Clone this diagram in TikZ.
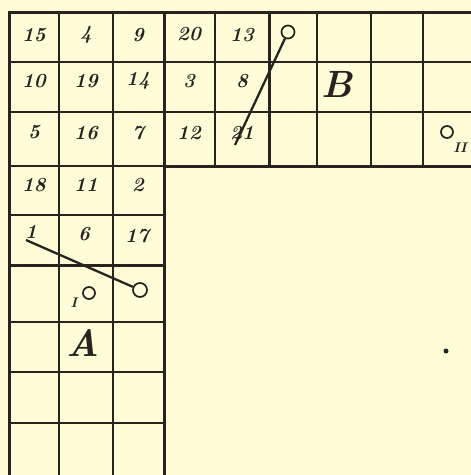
\documentclass[tikz,border=0pt]{standalone}
\begin{document}
\begin{tikzpicture}[x=1pt,y=-1pt,
  thin line/.style={line width=1.9pt,draw=ink},
  thick line/.style={line width=3pt,draw=ink},
  num/.style={font=\fontsize{20}{20}\selectfont\bfseries\itshape,text=ink,inner sep=0pt},
  big/.style={font=\fontsize{38}{38}\selectfont\bfseries\itshape,text=ink,inner sep=0pt},
  roman/.style={font=\fontsize{14}{14}\selectfont\bfseries\itshape,text=ink,inner sep=0pt},
  ring/.style={circle,draw=ink,line width=1.7pt,inner sep=0pt,minimum size=#1},
  rod/.style={line width=2.3pt,draw=ink}]
\definecolor{ink}{RGB}{40,35,30}
\definecolor{paper}{RGB}{254,253,216}
\fill[paper] (0,0) rectangle (471,475);
\useasboundingbox (0,0) rectangle (471,475);
% top band (B)
\foreach \y in {62,112}{\draw[thin line] (9,\y) -- (471,\y);}
\foreach \x in {59,113,215,317,371,423}{\draw[thin line] (\x,12) -- (\x,166);}
\draw[thick line] (164,12) -- (164,166);
\draw[thick line] (269,12) -- (269,166);
\draw[thick line] (7.5,12) -- (471,12);
\draw[thick line] (164,166) -- (471,166);
% left column (A)
\draw[thin line] (9,166) -- (164,166);
\foreach \y in {215,322,372,423}{\draw[thin line] (9,\y) -- (164,\y);}
\draw[thick line] (9,265) -- (164,265);
\foreach \x in {59,113}{\draw[thin line] (\x,166) -- (\x,475);}
\draw[thick line] (164,166) -- (164,475);
\draw[thick line] (9,12) -- (9,475);
% numbers
\node[num] (n15) at (34,35) {15};
\node[num] (n4) at (86,35) {4};
\node[num] (n9) at (138,35) {9};
\node[num] (n20) at (189,34) {20};
\node[num] (n13) at (242,35) {13};
\node[num] (n10) at (34,81) {10};
\node[num] (n19) at (86,81) {19};
\node[num] (n14) at (138,81) {14};
\node[num] (n3) at (189,81) {3};
\node[num] (n8) at (242,81) {8};
\node[num] (n5) at (34,132) {5};
\node[num] (n16) at (86,133) {16};
\node[num] (n7) at (138,133) {7};
\node[num] (n12) at (189,133) {12};
\node[num] (n21) at (242,133) {21};
\node[num] (n18) at (34,185) {18};
\node[num] (n11) at (86,185) {11};
\node[num] (n2) at (138,185) {2};
\node[num] (n1) at (31,232) {1};
\node[num] (n6) at (84,234) {6};
\node[num] (n17) at (137,236) {17};
% letters
\node[big] (A) at (83,343) {A};
\node[big] (B) at (337,84) {B};
% circles and rods
\node[ring=13pt] (c1) at (288,32) {};
\coordinate (e1) at (235,145);
\draw[rod] (c1) -- (e1);
\node[ring=14pt] (c2) at (140,290) {};
\coordinate (e2) at (26,240);
\draw[rod] (e2) -- (c2);
\node[ring=12pt] (cI) at (89,293) {};
\node[roman] (lI) at (74,303) {I};
\node[ring=12pt] (cII) at (447,132) {};
\node[roman] (lII) at (460,148) {II};
\node[circle,fill=ink,inner sep=0pt,minimum size=5pt] (dot) at (446,351) {};
\end{tikzpicture}
\end{document}
